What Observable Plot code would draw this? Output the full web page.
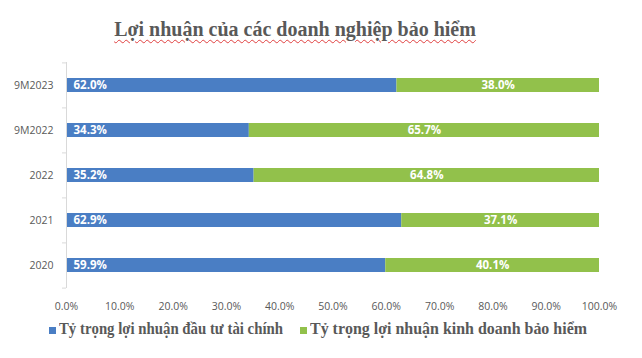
<!DOCTYPE html>
<html><head><meta charset="utf-8">
<script src="https://cdn.jsdelivr.net/npm/d3@7"></script>
<script src="https://cdn.jsdelivr.net/npm/@observablehq/plot@0.6"></script>
<style>
body{margin:0;background:#fff;}
#wrap{position:relative;width:642px;height:358px;overflow:hidden;}
#title{position:absolute;left:0;width:590px;top:18px;text-align:center;font-family:"Liberation Serif","Times New Roman",serif;font-weight:bold;font-size:20px;color:#595959;text-decoration:underline wavy #e04040;text-decoration-thickness:1px;text-underline-offset:3px;}
.sw{position:absolute;width:7px;height:7px;top:327px;}
.lt{position:absolute;top:318px;font-family:"Liberation Serif","Times New Roman",serif;font-weight:bold;font-size:17.5px;line-height:20px;color:#595959;white-space:nowrap;transform-origin:0 0;}
#chart{position:absolute;left:0;top:0;}
</style></head>
<body><div id="wrap"><div id="chart"></div><div id="title"></div></div>
<script>
const titleText = "Lợi nhuận của các doanh nghiệp bảo hiểm";
const categories = ["9M2023", "9M2022", "2022", "2021", "2020"];
const seriesNames = ["Tỷ trọng lợi nhuận đầu tư tài chính", "Tỷ trọng lợi nhuận kinh doanh bảo hiểm"];
const investShare = [0.620, 0.343, 0.352, 0.629, 0.599];
const insuranceShare = [0.380, 0.657, 0.648, 0.371, 0.401];
const xTicks = [0, 0.1, 0.2, 0.3, 0.4, 0.5, 0.6, 0.7, 0.8, 0.9, 1.0];
const colors = ["#4A7EC4", "#92C14B"];

document.getElementById("title").textContent = titleText;
const wrap = document.getElementById("wrap");
const legendLayout = [{sw: 49, tx: 59, w: 224}, {sw: 300, tx: 310, w: 277}];
seriesNames.forEach((n, i) => {
  const L = legendLayout[i];
  const sw = document.createElement("div"); sw.className = "sw"; sw.style.background = colors[i]; sw.style.left = L.sw + "px";
  const t = document.createElement("div"); t.className = "lt"; t.textContent = n; t.style.left = L.tx + "px";
  wrap.appendChild(sw); wrap.appendChild(t);
  const w = t.getBoundingClientRect().width;
  t.style.transform = `scaleX(${L.w / w})`;
});

const rows = [];
categories.forEach((c, i) => {
  rows.push({cat: c, series: seriesNames[0], value: investShare[i]});
  rows.push({cat: c, series: seriesNames[1], value: insuranceShare[i]});
});
const labelsA = categories.map((c, i) => ({cat: c, x: 0, v: investShare[i]}));
const labelsB = categories.map((c, i) => ({cat: c, x: investShare[i] + insuranceShare[i] / 2, v: insuranceShare[i]}));
const fmt = d3.format(".1%");

const chart = Plot.plot({
  width: 642, height: 358,
  marginTop: 62, marginBottom: 70, marginLeft: 66, marginRight: 43,
  style: {fontFamily: "'Open Sans', 'DejaVu Sans', sans-serif", background: "white"},
  x: {domain: [0, 1], ticks: xTicks, tickFormat: fmt},
  y: {domain: categories, paddingInner: 0.69, paddingOuter: 0.345},
  color: {domain: seriesNames, range: colors},
  marks: [
    Plot.axisX({ticks: xTicks, tickFormat: fmt, tickSize: 0, tickPadding: 14, fontSize: 10.5, fill: "#595959", label: null}),
    Plot.axisY({tickSize: 0, tickPadding: 13, fontSize: 10.5, fill: "#595959", label: null}),
    Plot.barX(rows, {x: "value", y: "cat", fill: "series"}),
    Plot.ruleX([0], {stroke: "#d9d9d9"}),
    Plot.ruleY(categories, {y: d => d, x1: -0.0075, x2: 0, dy: -22.6, stroke: "#d9d9d9"}),
    Plot.ruleY([categories[categories.length - 1]], {y: d => d, x1: -0.0075, x2: 0, dy: 22.6, stroke: "#d9d9d9"}),
    Plot.text(labelsA, {x: "x", y: "cat", text: d => fmt(d.v), textAnchor: "start", dx: 7, fill: "white", fontWeight: "bold", fontSize: 11.5}),
    Plot.text(labelsB, {x: "x", y: "cat", text: d => fmt(d.v), fill: "white", fontWeight: "bold", fontSize: 11.5})
  ]
});
document.getElementById("chart").appendChild(chart);
</script></body></html>
